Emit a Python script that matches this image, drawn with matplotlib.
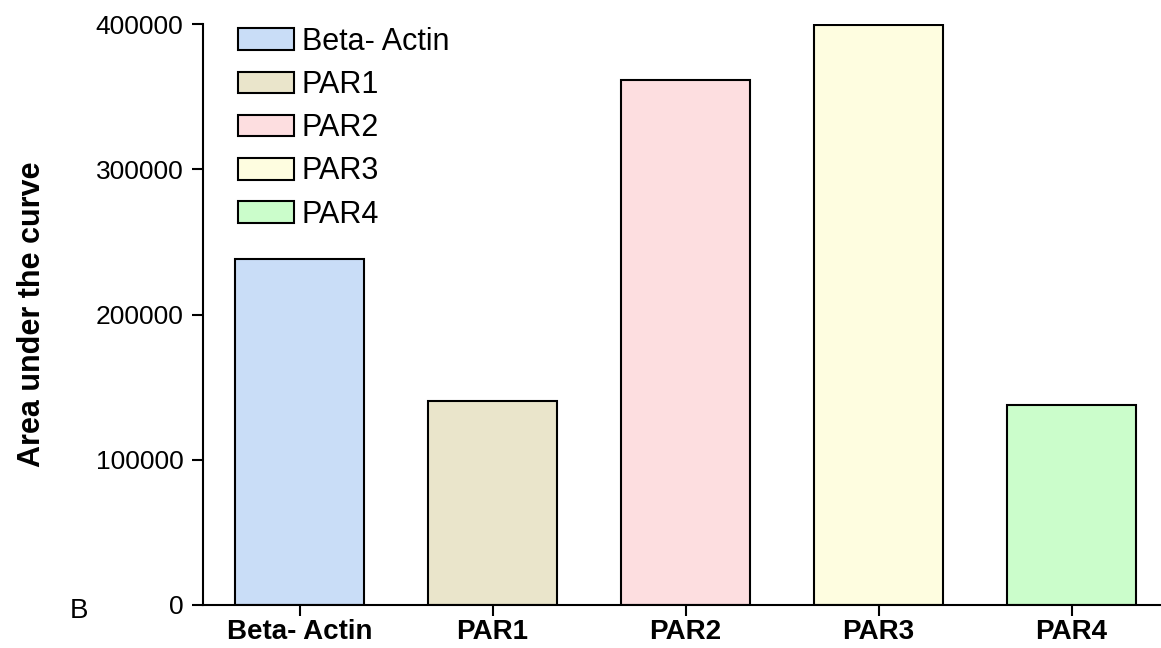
import matplotlib.pyplot as plt
from matplotlib.patches import Patch

categories = ["Beta- Actin", "PAR1", "PAR2", "PAR3", "PAR4"]
values = [238000, 140500, 361500, 399500, 137700]
colors = ["#C9DDF7", "#EAE5CB", "#FDDEE0", "#FEFDE0", "#CBFDCB"]
yticks = [0, 100000, 200000, 300000, 400000]

plt.rcParams['font.family'] = ['Liberation Sans', 'DejaVu Sans']

fig = plt.figure(figsize=(11.61, 6.48), dpi=100)
ax = fig.add_axes([203 / 1161, 43 / 648, 958 / 1161, 581 / 648])

x = list(range(len(categories)))
ax.bar(x, values, width=0.665, color=colors, edgecolor='black', linewidth=1.5, zorder=2)

ax.set_xlim(-0.5, -0.5 + 958 / 193)
ax.set_ylim(0, 400000)
ax.set_yticks(yticks)
ax.set_yticklabels([str(v) for v in yticks], fontsize=19)
ax.set_xticks(x)
ax.set_xticklabels(categories, fontsize=20, fontweight='bold')

for side in ['top', 'right']:
    ax.spines[side].set_visible(False)
for side in ['left', 'bottom']:
    ax.spines[side].set_linewidth(1.5)
ax.tick_params(axis='y', length=8, width=1.5, pad=6)
ax.tick_params(axis='x', length=8, width=1.5, pad=2)

ax.set_ylabel("Area under the curve", fontsize=22, fontweight='bold', labelpad=35)

handles = [Patch(facecolor=c, edgecolor='black', linewidth=1.5) for c in colors]
fig.legend(handles, categories, loc='upper left', bbox_to_anchor=(238 / 1161, 1 - 27 / 648),
           frameon=False, fontsize=22, handlelength=1.83, handleheight=0.72,
           handletextpad=0.25, labelspacing=0.43, borderpad=0, borderaxespad=0)

fig.text(70 / 1161, 1 - 611 / 648, "B", fontsize=20, va='center')

fig.savefig("out.png", dpi=100)
